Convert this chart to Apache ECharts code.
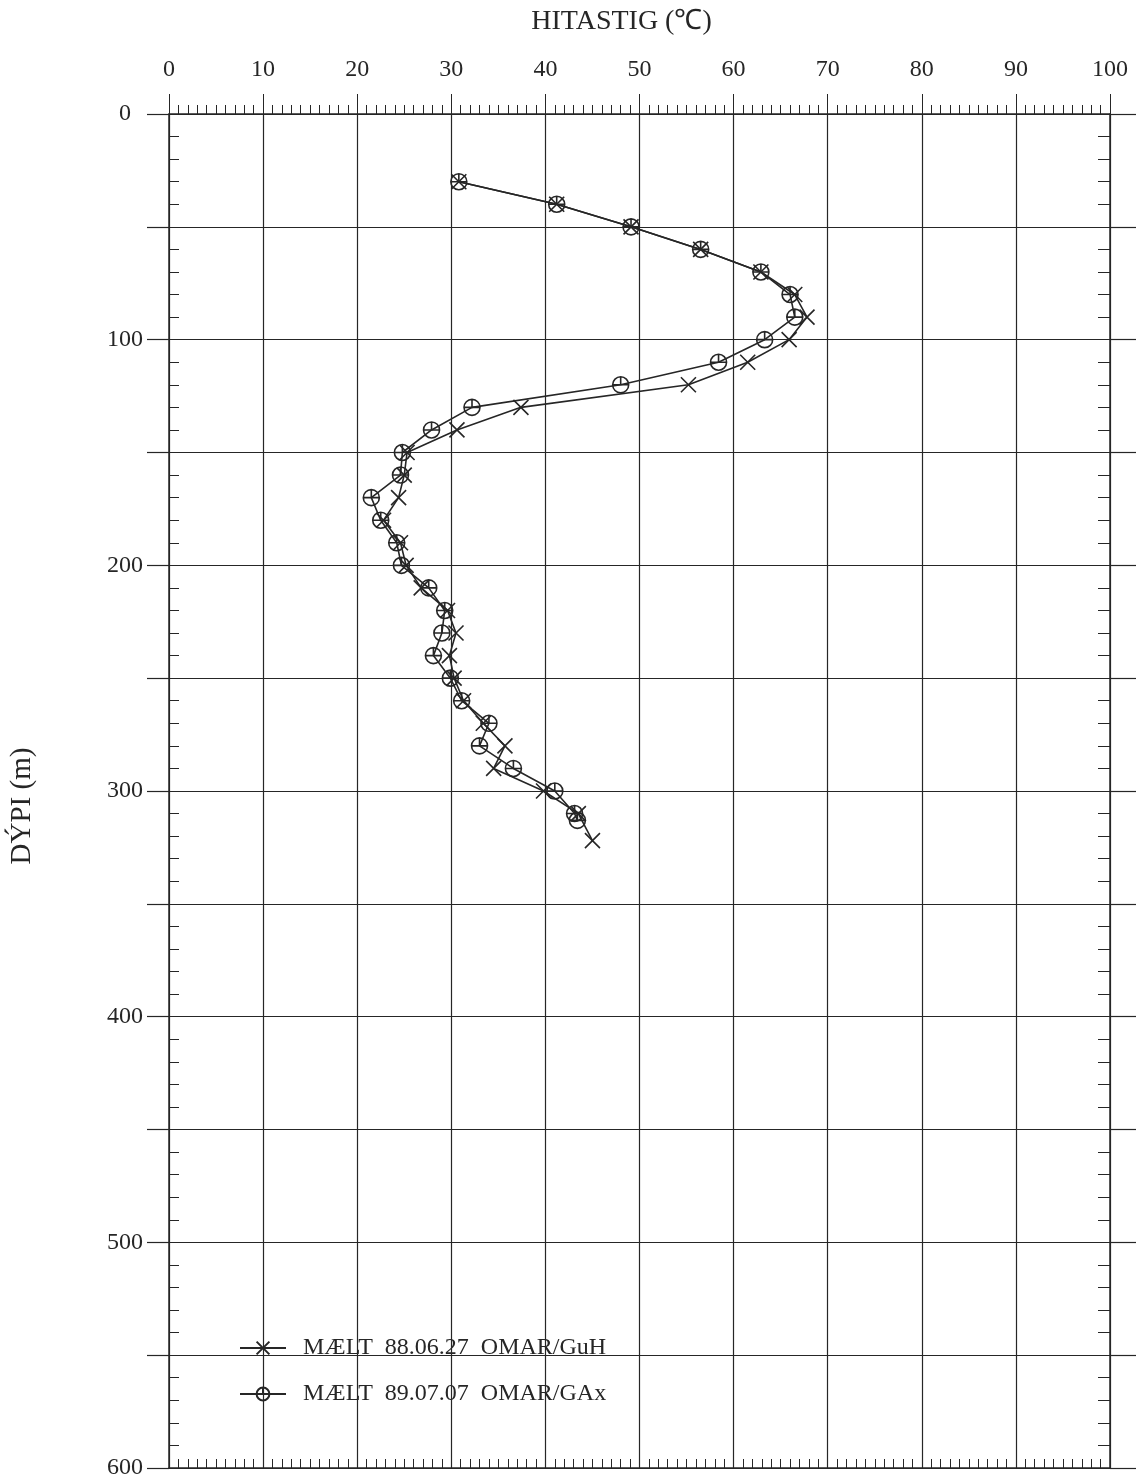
<!DOCTYPE html>
<html>
<head>
<meta charset="utf-8">
<script src="https://cdn.jsdelivr.net/npm/echarts@6/dist/echarts.min.js"></script>
<style>
  html, body { margin: 0; padding: 0; background: #fff; }
  #main { width: 1136px; height: 1483px; }
</style>
</head>
<body>
<div id="main"></div>
<script>
var depths1 = [30, 40, 50, 60, 70, 80, 90, 100, 110, 120, 130, 140, 150, 160, 170, 180, 190, 200,
               210, 220, 230, 240, 250, 260, 270, 280, 290, 300, 310, 322];
var temps1 = [30.8, 41.2, 49.1, 56.5, 62.9, 66.5, 67.8, 65.9, 61.5, 55.2, 37.4, 30.6, 25.3, 25.0, 24.4,
              22.8, 24.6, 25.2, 26.8, 29.6, 30.5, 29.8, 30.3, 31.3, 33.4, 35.7, 34.5, 39.8, 43.5, 45.0];

var depths2 = [30, 40, 50, 60, 70, 80, 90, 100, 110, 120, 130, 140, 150, 160, 170, 180, 190, 200,
               210, 220, 230, 240, 250, 260, 270, 280, 290, 300, 310, 313];
var temps2 = [30.8, 41.2, 49.1, 56.5, 62.9, 66.0, 66.5, 63.3, 58.4, 48.0, 32.2, 27.9, 24.8, 24.6, 21.5,
              22.5, 24.2, 24.7, 27.6, 29.3, 29.0, 28.1, 29.9, 31.1, 34.0, 33.0, 36.6, 41.0, 43.1, 43.4];

var names = ['MÆLT  88.06.27  OMAR/GuH', 'MÆLT  89.07.07  OMAR/GAx'];

var ink = '#262626';
var font = 'Liberation Serif';

var crossSymbol = 'path://M0,0L10,10M10,0L0,10';
var circleSymbol = 'path://M0,5A5,5,0,1,1,10,5A5,5,0,1,1,0,5ZM5,0L5,5M0,5L10,5';

function pairs(t, d) {
    return t.map(function (v, i) { return [v, d[i]]; });
}

var option = {
    backgroundColor: '#fff',
    animation: false,
    grid: { left: 167, right: 26, top: 114, bottom: 15 },
    legend: {
        orient: 'vertical',
        left: 234,
        top: 1331,
        itemWidth: 46,
        itemHeight: 16,
        itemGap: 22,
        textStyle: { fontFamily: font, fontSize: 24, color: ink, padding: [0, 0, 0, 12] },
        data: names
    },
    xAxis: [{
        type: 'value',
        position: 'top',
        min: 0,
        max: 100,
        interval: 10,
        name: 'HITASTIG (℃)',
        nameLocation: 'middle',
        nameGap: 78,
        nameTextStyle: { fontFamily: font, fontSize: 28, color: ink, padding: [0, 36, 0, 0] },
        axisLine: { show: true, onZero: false, lineStyle: { color: ink, width: 1.5 } },
        axisTick: { show: true, length: 20, lineStyle: { color: ink } },
        minorTick: { show: true, splitNumber: 10, length: 9, lineStyle: { color: ink } },
        splitLine: { show: true, lineStyle: { color: ink, width: 1.2 } },
        axisLabel: { margin: 32, fontFamily: font, fontSize: 24, color: ink }
    }, {
        // bottom edge, 1 degree ticks pointing in
        type: 'value',
        position: 'bottom',
        min: 0,
        max: 100,
        interval: 1,
        axisLine: { show: true, onZero: false, lineStyle: { color: ink, width: 1.5 } },
        axisTick: { show: true, inside: true, length: 9, lineStyle: { color: ink } },
        splitLine: { show: false },
        axisLabel: { show: false }
    }],
    yAxis: [{
        type: 'value',
        position: 'left',
        inverse: true,
        min: 0,
        max: 600,
        interval: 50,
        name: 'DÝPI (m)',
        nameLocation: 'middle',
        nameGap: 132,
        nameTextStyle: { fontFamily: font, fontSize: 29, color: ink, padding: [0, 30, 0, 0] },
        axisLine: { show: true, onZero: false, lineStyle: { color: ink, width: 1.5 } },
        axisTick: { show: true, inside: true, length: 10, lineStyle: { color: ink } },
        minorTick: { show: true, splitNumber: 5, length: 10, lineStyle: { color: ink } },
        splitLine: { show: true, lineStyle: { color: ink, width: 1.2 } },
        axisLabel: {
            margin: 44,
            align: 'center',
            fontFamily: font,
            fontSize: 24,
            color: ink,
            formatter: function (v) { return v % 100 === 0 ? String(v) : ''; }
        }
    }, {
        // grid lines poke out a little on the left
        type: 'value',
        position: 'left',
        inverse: true,
        min: 0,
        max: 600,
        interval: 50,
        axisLine: { show: false, onZero: false },
        axisTick: { show: true, length: 22, lineStyle: { color: ink, width: 1.2 } },
        splitLine: { show: false },
        axisLabel: { show: false }
    }, {
        type: 'value',
        position: 'right',
        inverse: true,
        min: 0,
        max: 600,
        interval: 10,
        axisLine: { show: true, onZero: false, lineStyle: { color: ink, width: 1.5 } },
        axisTick: { show: true, inside: true, length: 12, lineStyle: { color: ink } },
        splitLine: { show: false },
        axisLabel: { show: false }
    }, {
        type: 'value',
        position: 'right',
        inverse: true,
        min: 0,
        max: 600,
        interval: 50,
        axisLine: { show: false, onZero: false },
        axisTick: { show: true, length: 26, lineStyle: { color: ink, width: 1.2 } },
        splitLine: { show: false },
        axisLabel: { show: false }
    }],
    series: [{
        name: names[0],
        type: 'line',
        xAxisIndex: 0,
        yAxisIndex: 0,
        symbol: crossSymbol,
        symbolSize: 15,
        showAllSymbol: true,
        lineStyle: { color: ink, width: 1.6 },
        itemStyle: { color: 'none', borderColor: ink, borderWidth: 1.6 },
        data: pairs(temps1, depths1)
    }, {
        name: names[1],
        type: 'line',
        xAxisIndex: 0,
        yAxisIndex: 0,
        symbol: circleSymbol,
        symbolSize: 16,
        showAllSymbol: true,
        lineStyle: { color: ink, width: 1.6 },
        itemStyle: { color: 'none', borderColor: ink, borderWidth: 1.6 },
        data: pairs(temps2, depths2)
    }]
};

var myChart = echarts.init(document.getElementById('main'));
myChart.setOption(option);
</script>
</body>
</html>
